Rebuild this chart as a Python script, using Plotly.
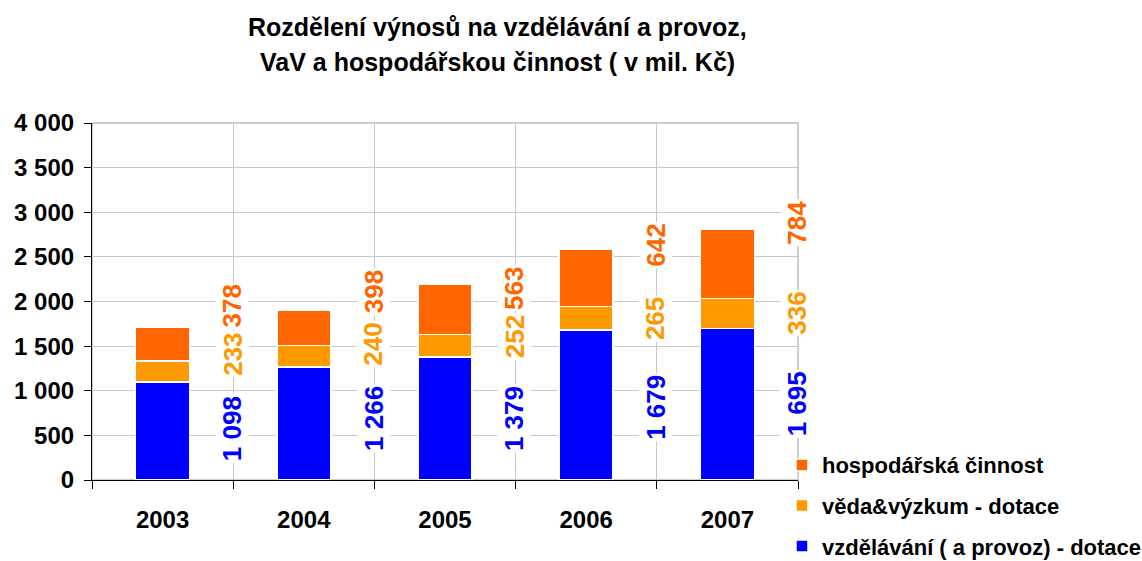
import plotly.graph_objects as go

years = ["2003", "2004", "2005", "2006", "2007"]
vzdelavani = [1098, 1266, 1379, 1679, 1695]
veda = [233, 240, 252, 265, 336]
hospodarska = [378, 398, 563, 642, 784]

names = ["vzdělávání ( a provoz) - dotace", "věda&výzkum - dotace", "hospodářská činnost"]
colors = ["#0000FF", "#FF9900", "#FF6600"]
series = [vzdelavani, veda, hospodarska]
legend_ranks = [3, 2, 1]

# label vertical pixel shifts (style only)
label_shift = [[2, 5, 0, -2, 0], [17, 12, 9, 0, 0], [38, 36, 21, 33, 41]]

FONT = "Liberation Sans, Arial, sans-serif"

def fmt(v):
    return f"{v:,}".replace(",", " ")

fig = go.Figure()
for i, (name, vals, col) in enumerate(zip(names, series, colors)):
    fig.add_trace(go.Bar(
        x=years, y=vals, name=name, legendgroup=f"g{i}", legendrank=legend_ranks[i],
        marker=dict(color=col, line=dict(color="white", width=1.5)),
        hoverinfo="x+y+name",
    ))

annotations = []
for s, (vals, col) in enumerate(zip(series, colors)):
    for j, v in enumerate(vals):
        base = sum(series[k][j] for k in range(s))
        annotations.append(dict(
            x=j + 0.5, y=base + v / 2, xref="x", yref="y",
            text=fmt(v), textangle=-90, showarrow=False,
            font=dict(family=FONT, size=26, color=col, weight="bold"),
            bgcolor="white", borderpad=1, yshift=label_shift[s][j], xshift=-1,
        ))

annotations.append(dict(
    x=0.5737, y=1.2689, xref="paper", yref="paper",
    text="Rozdělení výnosů na vzdělávání a provoz,", showarrow=False,
    font=dict(family=FONT, size=25, color="black", weight="bold"),
    xanchor="center", yanchor="middle"))
annotations.append(dict(
    x=0.5737, y=1.1709, xref="paper", yref="paper",
    text="VaV a hospodářskou činnost ( v mil. Kč)", showarrow=False,
    font=dict(family=FONT, size=25, color="black", weight="bold"),
    xanchor="center", yanchor="middle"))

fig.update_layout(
    width=1142, height=561,
    margin=dict(l=92, r=344, t=123, b=81, autoexpand=False),
    barmode="stack", bargap=0.617,
    paper_bgcolor="white", plot_bgcolor="white",
    separators=", ",
    font=dict(family=FONT, size=24, color="black"),
    showlegend=True,
    legend=dict(
        x=0.9773, y=0.1006, xanchor="left", yanchor="top",
        traceorder="grouped", tracegroupgap=9,
        font=dict(family=FONT, size=22, color="black", weight="bold"),
        bgcolor="rgba(0,0,0,0)", itemwidth=30,
    ),
    annotations=annotations,
    shapes=[dict(type="rect", xref="paper", yref="paper", x0=0, x1=1, y0=0, y1=1,
                 line=dict(color="#BFBFBF", width=1.5), layer="below")],
)

fig.update_xaxes(
    type="category", range=[-0.5, 4.5],
    tickson="boundaries", ticks="outside", ticklen=8, tickcolor="black",
    showgrid=True, gridcolor="#C8C8C8", gridwidth=1,
    showline=True, linecolor="black", linewidth=1.2,
    tickfont=dict(family=FONT, size=24, color="black", weight="bold"),
    ticklabelstandoff=18,
)
fig.update_yaxes(
    range=[0, 4000], dtick=500, tickformat=",d",
    ticks="outside", ticklen=7, tickcolor="black",
    showgrid=True, gridcolor="#C8C8C8", gridwidth=1,
    showline=True, linecolor="black", linewidth=1.2, zeroline=False,
    tickfont=dict(family=FONT, size=24, color="black", weight="bold"),
    ticklabelstandoff=5,
)

fig.write_html(
    "out.html",
    config={"displayModeBar": False},
    post_script="document.body.style.margin='0';document.body.style.overflow='hidden';",
)
